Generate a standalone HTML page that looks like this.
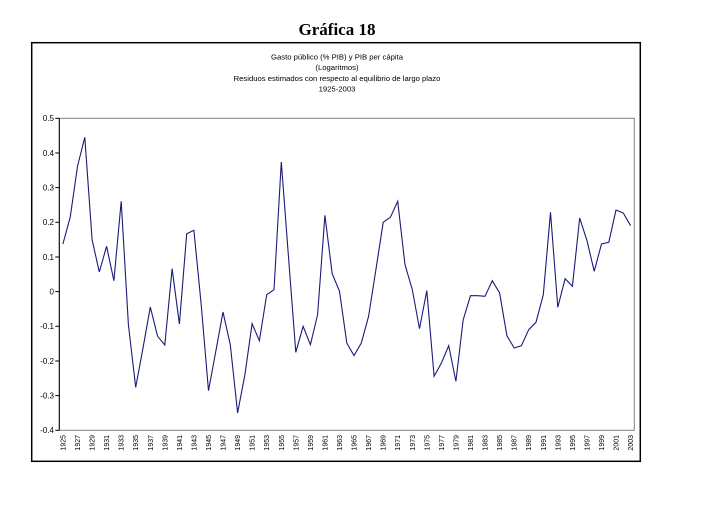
<!DOCTYPE html>
<html>
<head>
<meta charset="utf-8">
<style>
html,body{margin:0;padding:0;background:#fff;}
svg{display:block;}
</style>
</head>
<body>
<svg width="709" height="524" viewBox="0 0 709 524" xmlns="http://www.w3.org/2000/svg">
<rect width="709" height="524" fill="#fff"/>
<text x="337" y="35" text-anchor="middle" font-family="Liberation Serif, serif" font-weight="bold" font-size="17" fill="#000">Gráfica 18</text>
<rect x="31.7" y="42.7" width="608.6" height="418.6" fill="none" stroke="#000" stroke-width="1.5"/>
<g font-family="Liberation Sans, sans-serif" font-size="7.7" fill="#000" text-anchor="middle">
<text x="337" y="59.5">Gasto público (% PIB) y PIB per cápita</text>
<text x="337" y="70">(Logaritmos)</text>
<text x="337" y="81">Residuos estimados con respecto al equilibrio de largo plazo</text>
<text x="337" y="91.5">1925-2003</text>
</g>
<!-- plot area -->
<rect x="59.3" y="118.3" width="575" height="312" fill="none" stroke="#808080" stroke-width="1"/>
<line x1="59.3" y1="118.3" x2="59.3" y2="430.3" stroke="#000" stroke-width="1"/>
<g stroke="#000" stroke-width="1">
<line x1="55.3" y1="118.3" x2="59.3" y2="118.3"/>
<line x1="55.3" y1="153" x2="59.3" y2="153"/>
<line x1="55.3" y1="187.6" x2="59.3" y2="187.6"/>
<line x1="55.3" y1="222.3" x2="59.3" y2="222.3"/>
<line x1="55.3" y1="257" x2="59.3" y2="257"/>
<line x1="55.3" y1="291.6" x2="59.3" y2="291.6"/>
<line x1="55.3" y1="326.3" x2="59.3" y2="326.3"/>
<line x1="55.3" y1="361" x2="59.3" y2="361"/>
<line x1="55.3" y1="395.6" x2="59.3" y2="395.6"/>
<line x1="55.3" y1="430.3" x2="59.3" y2="430.3"/>
</g>
<g font-family="Liberation Sans, sans-serif" font-size="8" fill="#000" text-anchor="end">
<text x="54" y="121">0.5</text>
<text x="54" y="155.8">0.4</text>
<text x="54" y="190.4">0.3</text>
<text x="54" y="225.1">0.2</text>
<text x="54" y="259.8">0.1</text>
<text x="54" y="294.4">0</text>
<text x="54" y="329.1">-0.1</text>
<text x="54" y="363.8">-0.2</text>
<text x="54" y="398.4">-0.3</text>
<text x="54" y="433.1">-0.4</text>
</g>
<g font-family="Liberation Sans, sans-serif" font-size="7" fill="#000" text-anchor="end">
<text transform="translate(65.4,435) rotate(-90)">1925</text>
<text transform="translate(80,435) rotate(-90)">1927</text>
<text transform="translate(94.6,435) rotate(-90)">1929</text>
<text transform="translate(109.1,435) rotate(-90)">1931</text>
<text transform="translate(123.7,435) rotate(-90)">1933</text>
<text transform="translate(138.2,435) rotate(-90)">1935</text>
<text transform="translate(152.8,435) rotate(-90)">1937</text>
<text transform="translate(167.3,435) rotate(-90)">1939</text>
<text transform="translate(181.9,435) rotate(-90)">1941</text>
<text transform="translate(196.4,435) rotate(-90)">1943</text>
<text transform="translate(211,435) rotate(-90)">1945</text>
<text transform="translate(225.6,435) rotate(-90)">1947</text>
<text transform="translate(240.1,435) rotate(-90)">1949</text>
<text transform="translate(254.7,435) rotate(-90)">1951</text>
<text transform="translate(269.2,435) rotate(-90)">1953</text>
<text transform="translate(283.8,435) rotate(-90)">1955</text>
<text transform="translate(298.3,435) rotate(-90)">1957</text>
<text transform="translate(312.9,435) rotate(-90)">1959</text>
<text transform="translate(327.4,435) rotate(-90)">1961</text>
<text transform="translate(342,435) rotate(-90)">1963</text>
<text transform="translate(356.6,435) rotate(-90)">1965</text>
<text transform="translate(371.1,435) rotate(-90)">1967</text>
<text transform="translate(385.7,435) rotate(-90)">1969</text>
<text transform="translate(400.2,435) rotate(-90)">1971</text>
<text transform="translate(414.8,435) rotate(-90)">1973</text>
<text transform="translate(429.3,435) rotate(-90)">1975</text>
<text transform="translate(443.9,435) rotate(-90)">1977</text>
<text transform="translate(458.4,435) rotate(-90)">1979</text>
<text transform="translate(473,435) rotate(-90)">1981</text>
<text transform="translate(487.6,435) rotate(-90)">1983</text>
<text transform="translate(502.1,435) rotate(-90)">1985</text>
<text transform="translate(516.7,435) rotate(-90)">1987</text>
<text transform="translate(531.2,435) rotate(-90)">1989</text>
<text transform="translate(545.8,435) rotate(-90)">1991</text>
<text transform="translate(560.3,435) rotate(-90)">1993</text>
<text transform="translate(574.9,435) rotate(-90)">1995</text>
<text transform="translate(589.5,435) rotate(-90)">1997</text>
<text transform="translate(604,435) rotate(-90)">1999</text>
<text transform="translate(618.6,435) rotate(-90)">2001</text>
<text transform="translate(633.1,435) rotate(-90)">2003</text>
</g>
<polyline fill="none" stroke="#1a1a78" stroke-width="1.1" stroke-linejoin="miter" points="62.9,244 70.2,217.3 77.5,166.3 84.8,137.3 92.1,239.7 99.3,272 106.6,246.3 113.9,280.7 121.2,201.3 128.4,324.7 135.7,387.3 143,348 150.3,307 157.6,336.3 164.8,345 172.1,268.7 179.4,324 186.7,233.7 193.9,230.3 201.2,304.7 208.5,390.7 215.8,351.3 223,312 230.3,344.7 237.6,413 244.9,374.7 252.1,323.7 259.4,340.7 266.7,294.7 274,289.7 281.3,162 288.5,257 295.8,352.3 303.1,326.3 310.4,344.7 317.6,314.7 324.9,215.3 332.2,273.7 339.5,291.3 346.8,343 354,355.7 361.3,343 368.6,316.3 375.9,269.7 383.2,222.3 390.4,217.3 397.7,201.3 405,264.7 412.3,289.7 419.5,328.7 426.8,290.7 434.1,376.3 441.4,363 448.7,345.7 455.9,381.3 463.2,319.7 470.5,295.7 477.8,295.7 485,296.3 492.3,280.7 499.6,293 506.9,335.7 514.2,348 521.4,345.7 528.7,329.7 536,322.3 543.3,294.7 550.5,212.3 557.8,307.3 565.1,278.7 572.4,286.3 579.7,218 586.9,240.3 594.2,271.3 601.5,244 608.8,242.3 616,210 623.3,213 630.6,225.7"/>
</svg>
</body>
</html>
